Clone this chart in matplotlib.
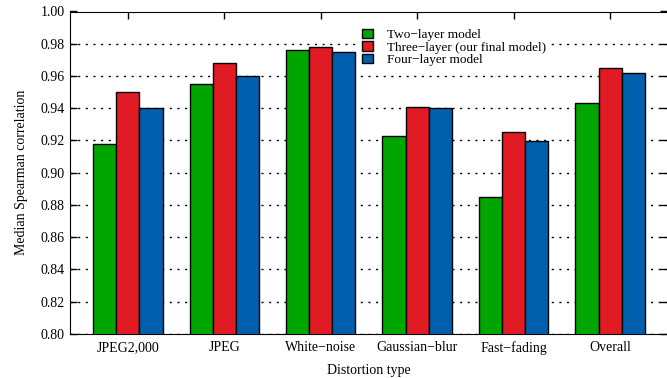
import numpy as np
import matplotlib.pyplot as plt

# data
categories = ["JPEG2,000", "JPEG", "White\u2212noise", "Gaussian\u2212blur", "Fast\u2212fading", "Overall"]
two_layer = [0.918, 0.955, 0.976, 0.923, 0.885, 0.943]
three_layer = [0.950, 0.968, 0.978, 0.941, 0.925, 0.965]
four_layer = [0.940, 0.960, 0.975, 0.940, 0.920, 0.962]
labels = ["Two\u2212layer model", "Three\u2212layer (our final model)", "Four\u2212layer model"]
colors = ["#00a600", "#e01b24", "#0060ad"]

plt.rcParams['font.family'] = ['Liberation Serif', 'DejaVu Serif']
plt.rcParams['font.size'] = 10

fig = plt.figure(figsize=(6.67, 3.78), dpi=100)
ax = fig.add_axes([70/667, 44/378, 597/667, 322.5/378])

x = np.arange(len(categories))
w = 0.24
for i, (vals, lab, c) in enumerate(zip([two_layer, three_layer, four_layer], labels, colors)):
    ax.bar(x + (i - 1) * w, vals, w, color=c, edgecolor="black", linewidth=1.0,
           label=lab, zorder=3)

ax.set_ylim(0.80, 1.00)
ax.set_xlim(-0.6, 5.59)
yt = np.arange(0.80, 1.001, 0.02)
ax.set_yticks(yt)
ax.set_yticklabels([f"{v:.2f}" for v in yt])
ax.set_xticks(x)
ax.set_xticklabels(categories)
ax.tick_params(axis='y', direction='in', length=5, width=1, right=True, pad=4)
ax.tick_params(axis='x', direction='in', length=5, width=1, top=True, bottom=False, pad=5)
ax.yaxis.grid(True, linestyle=(0, (1.5, 4)), color="black", linewidth=1.0, zorder=0)
ax.spines['right'].set_visible(False)
for t in ax.xaxis.get_major_ticks():
    t.tick2line.set_visible(True)
    t.tick2line.set_zorder(5)

ax.set_xlabel("Distortion type", labelpad=7)
ax.set_ylabel("Median Spearman correlation", labelpad=9)

leg = ax.legend(loc="upper left", bbox_to_anchor=(0.473, 0.975), frameon=True, fancybox=False,
                edgecolor="none", framealpha=1, handlelength=0.85, handleheight=0.75,
                handletextpad=1.05, labelspacing=0.0, borderpad=0.2, fontsize=9.5)
leg.set_zorder(4)

plt.savefig("out.png", dpi=100)
